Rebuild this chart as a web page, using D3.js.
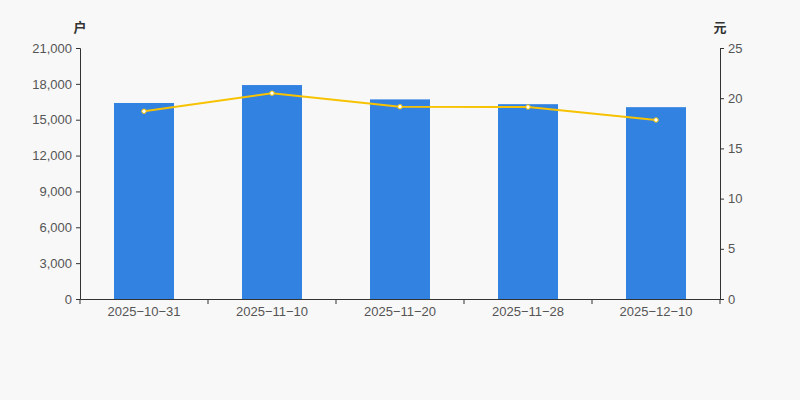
<!DOCTYPE html>
<html>
<head>
<meta charset="utf-8">
<script src="https://cdn.jsdelivr.net/npm/d3@7"></script>
<style>
  body { margin: 0; background: #f8f8f8; }
  svg { display: block; font-family: "Liberation Sans", Arial, sans-serif; }
</style>
</head>
<body>
<div id="chart"></div>
<script>
// Data
const dates = ["2025-10-31", "2025-11-10", "2025-11-20", "2025-11-28", "2025-12-10"];
const holders = [16400, 17900, 16700, 16300, 16050];   // 户
const prices = [18.7, 20.5, 19.15, 19.12, 17.83];      // 元
const leftTicks = [0, 3000, 6000, 9000, 12000, 15000, 18000, 21000];
const rightTicks = [0, 5, 10, 15, 20, 25];

const width = 800, height = 400;
const margin = {top: 48, right: 80, bottom: 101, left: 80};

const svg = d3.select("#chart").append("svg")
    .attr("width", width)
    .attr("height", height);

svg.append("rect").attr("width", width).attr("height", height).attr("fill", "#f8f8f8");

const x = d3.scaleBand()
    .domain(dates)
    .range([margin.left, width - margin.right]);

const yLeft = d3.scaleLinear().domain([0, 21000]).range([height - margin.bottom, margin.top]);
const yRight = d3.scaleLinear().domain([0, 25]).range([height - margin.bottom, margin.top]);

// Bars
svg.append("g")
    .selectAll("rect")
    .data(dates)
    .enter()
    .append("rect")
    .attr("x", (d) => x(d) + (x.bandwidth() - 60) / 2)
    .attr("width", 60)
    .attr("y", (d, i) => yLeft(holders[i]))
    .attr("height", (d, i) => yLeft(0) - yLeft(holders[i]))
    .attr("fill", "#3282e2");

// Line
const line = d3.line()
    .x((d, i) => x(dates[i]) + x.bandwidth() / 2)
    .y(d => yRight(d));

svg.append("path")
    .datum(prices)
    .attr("d", line)
    .attr("fill", "none")
    .attr("stroke", "#f7c200")
    .attr("stroke-width", 2);

svg.append("g")
    .selectAll("circle")
    .data(prices)
    .enter()
    .append("circle")
    .attr("cx", (d, i) => x(dates[i]) + x.bandwidth() / 2)
    .attr("cy", d => yRight(d))
    .attr("r", 2.2)
    .attr("fill", "#fff")
    .attr("stroke", "#f7c200")
    .attr("stroke-width", 1);

// Axes
function styleAxis(g) {
    g.selectAll(".domain").attr("stroke", "#333");
    g.selectAll(".tick line").attr("stroke", "#333");
    g.selectAll(".tick text").attr("fill", "#555").style("font-size", "13px");
}

svg.append("g")
    .attr("transform", `translate(${margin.left},0)`)
    .call(d3.axisLeft(yLeft).tickValues(leftTicks).tickFormat(d3.format(",")).tickSizeOuter(0).tickSize(4).tickPadding(4))
    .call(styleAxis);

svg.append("g")
    .attr("transform", `translate(${width - margin.right},0)`)
    .call(d3.axisRight(yRight).tickValues(rightTicks).tickSizeOuter(0).tickSize(4).tickPadding(4))
    .call(styleAxis);

const xAxis = svg.append("g")
    .attr("transform", `translate(0,${height - margin.bottom})`)
    .call(d3.axisBottom(x).tickSize(0).tickPadding(8).tickFormat(d => d.replace(/-/g, "\u2212")))
    .call(styleAxis);

// boundary ticks between categories
xAxis.selectAll(".bound")
    .data(dates.concat(["end"]))
    .enter()
    .append("line")
    .attr("class", "bound")
    .attr("x1", (d, i) => margin.left + i * x.step())
    .attr("x2", (d, i) => margin.left + i * x.step())
    .attr("y1", 0)
    .attr("y2", 5)
    .attr("stroke", "#333");

// Unit labels
svg.append("text")
    .attr("x", 80)
    .attr("y", 32)
    .attr("text-anchor", "middle")
    .attr("fill", "#333")
    .style("font-size", "13px")
    .style("font-weight", "bold")
    .style("font-family", "'Noto Sans CJK SC', sans-serif")
    .text("户");

svg.append("text")
    .attr("x", 720)
    .attr("y", 32)
    .attr("text-anchor", "middle")
    .attr("fill", "#333")
    .style("font-size", "13px")
    .style("font-weight", "bold")
    .style("font-family", "'Noto Sans CJK SC', sans-serif")
    .text("元");
</script>
</body>
</html>
